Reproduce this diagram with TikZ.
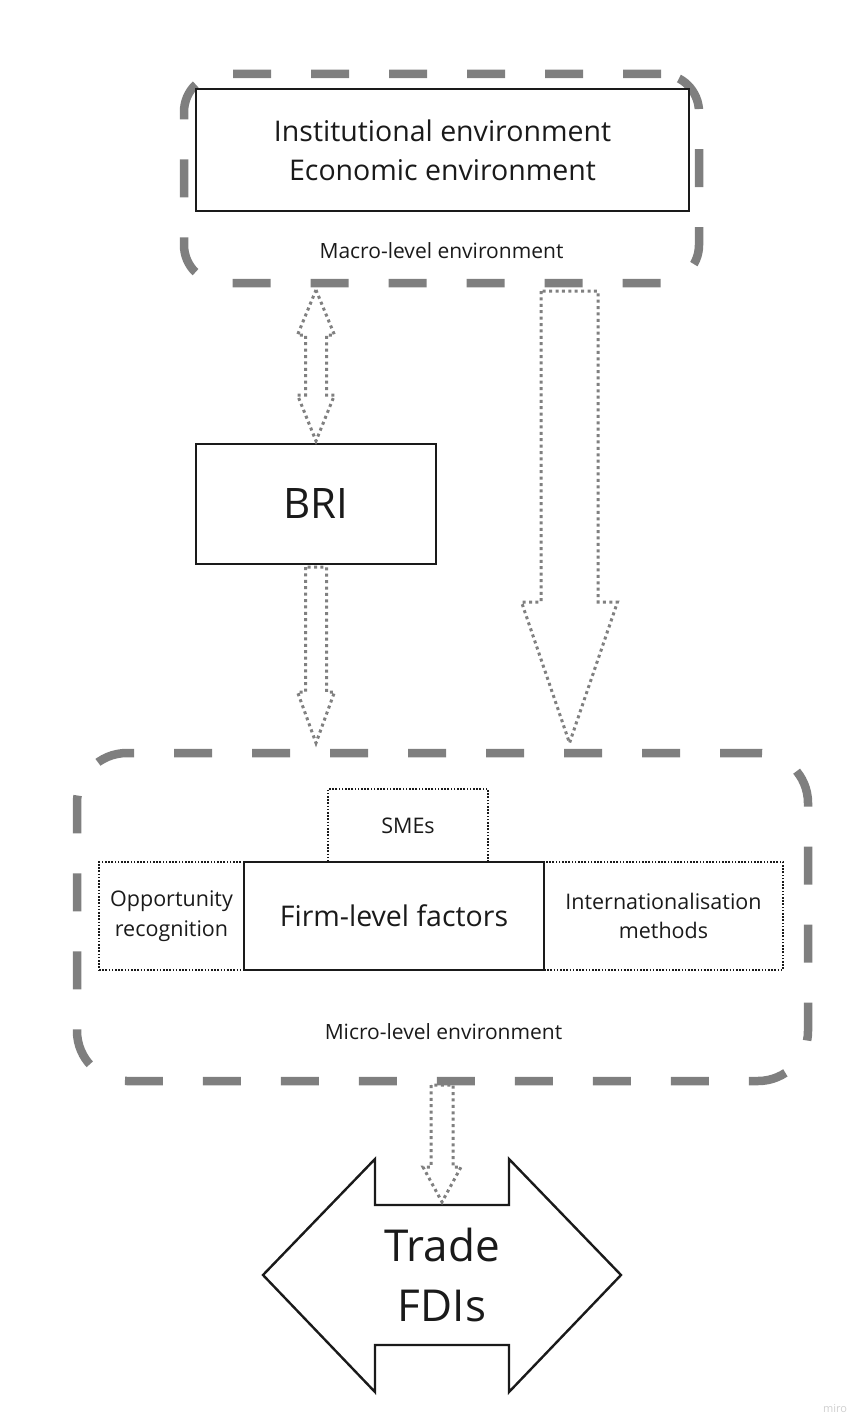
\documentclass[tikz,border=0pt]{standalone}
\usepackage{fontspec}
\setmainfont{Open Sans}
\usetikzlibrary{calc}
\definecolor{dashgray}{HTML}{7F7F7F}
\definecolor{dotgray}{HTML}{808080}
\definecolor{ink}{HTML}{1A1A1A}
\definecolor{wmark}{HTML}{CFCFCF}
\begin{document}
\begin{tikzpicture}[x=1pt,y=-1pt,
  every node/.style={outer sep=0pt},
  envframe/.style={draw=dashgray, line width=8.5pt, dash pattern=on 38pt off 40pt},
  solidbox/.style={draw=ink, line width=2.2pt, fill=white, text=ink, align=center, inner sep=0pt},
  dotbox/.style={draw=ink, line width=1.6pt, dash pattern=on 1.6pt off 1.6pt, text=ink, align=center, inner sep=0pt},
  dotarrow/.style={draw=dotgray, line width=3pt, dash pattern=on 3pt off 3.4pt, line join=miter},
  bigarrow/.style={draw=ink, line width=2.4pt, line join=miter},
  txt/.style={text=ink, inner sep=0pt, align=center},
  fbig/.style={font=\fontsize{28.5}{39}\selectfont},
  fsmall/.style={font=\fontsize{21.5}{29.5}\selectfont},
  fhuge/.style={font=\fontsize{44}{60}\selectfont},
]
\useasboundingbox (0,0) rectangle (856,1423);

% ---------- macro level ----------
\node[envframe, rounded corners=38pt, minimum width=515pt, minimum height=209pt] (macro) at (441.5,178.5) {};
\node[solidbox, fbig, minimum width=493pt, minimum height=122pt] (env) at (442.5,150)
  {Institutional environment\\Economic environment};
\node[txt, font=\fontsize{21}{25}\selectfont] (macrolbl) at (441.5,251) {Macro-level environment};

% ---------- BRI ----------
\node[solidbox, font=\fontsize{42}{50}\selectfont, minimum width=240pt, minimum height=120pt] (bri) at (316,504) {BRI};

% ---------- micro level ----------
\node[envframe, rounded corners=50pt, minimum width=731pt, minimum height=328pt] (micro) at (442.5,917) {};
\node[dotbox, fsmall, minimum width=160pt, minimum height=73pt] (smes) at (408,825.5) {SMEs};
\node[dotbox, fsmall, minimum width=145pt, minimum height=108pt] (opp) at (171.5,916) {Opportunity\\recognition};
\node[dotbox, fsmall, minimum width=239pt, minimum height=108pt] (intl) at (663.5,916) {Internationalisation\\methods};
\node[solidbox, fbig, minimum width=300pt, minimum height=108pt] (firm) at (394,916) {Firm-level factors};
\node[txt, font=\fontsize{21}{25}\selectfont] (microlbl) at (443.5,1032) {Micro-level environment};

% ---------- dotted block arrows ----------
% macro <-> BRI
\coordinate (aTop) at (bri.north |- 0,290);
\coordinate (aBot) at ($(bri.north)+(0,-3)$);
\draw[dotarrow] (aTop) -- ++(18.5,45) -- ++(-8,0) -- ($(aBot)+(10.5,-46)$) -- ++(8,0) -- (aBot)
  -- ++(-18.5,-46) -- ++(8,0) -- ($(aTop)+(-10.5,45)$) -- ++(-8,0) -- cycle;

% BRI -> micro
\coordinate (bTop) at ($(bri.south)+(0,3)$);
\coordinate (bTip) at ($(bri.south |- micro.north)+(0,-10)$);
\draw[dotarrow] ($(bTop)+(-10.5,0)$) -- ($(bTip)+(-10.5,-51)$) -- ++(-8,0) -- (bTip)
  -- ++(18.5,-51) -- ++(-8,0) -- ($(bTop)+(10.5,0)$) -- cycle;

% macro -> micro (large)
\coordinate (cTop) at (569.5,291);
\coordinate (cTip) at ($(cTop |- micro.north)+(0,-10)$);
\draw[dotarrow] ($(cTop)+(-28.5,0)$) -- ($(cTip)+(-28.5,-141)$) -- ++(-19.5,0) -- (cTip)
  -- ++(48,-141) -- ++(-19.5,0) -- ($(cTop)+(28.5,0)$) -- cycle;

% ---------- Trade / FDIs ----------
\coordinate (tc) at (442,1275);
\draw[bigarrow] ($(tc)+(-179,0)$) -- ($(tc)+(-67,-116)$) -- ($(tc)+(-67,-70)$) -- ($(tc)+(67,-70)$)
  -- ($(tc)+(67,-116)$) -- ($(tc)+(179,0)$) -- ($(tc)+(67,117)$) -- ($(tc)+(67,70)$)
  -- ($(tc)+(-67,70)$) -- ($(tc)+(-67,117)$) -- cycle;
\node[txt, fhuge] (trade) at (tc) {Trade\\FDIs};

% micro -> trade
\coordinate (dTop) at ($(micro.south)+(-0.5,4)$);
\coordinate (dTip) at ($(tc)+(0,-73)$);
\draw[dotarrow] ($(dTop)+(-11,0)$) -- ($(dTip)+(-11,-35)$) -- ++(-8,0) -- (dTip)
  -- ++(19,-35) -- ++(-8,0) -- ($(dTop)+(11,0)$) -- cycle;

% watermark
\node[text=wmark, font=\fontsize{11}{13}\selectfont, inner sep=0pt] (miro) at (835,1408) {miro};
\end{tikzpicture}
\end{document}
